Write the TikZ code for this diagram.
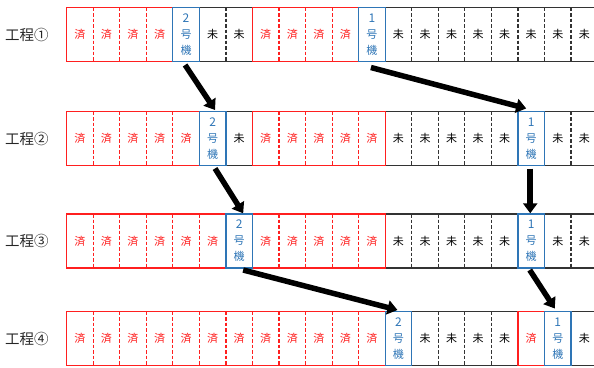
\documentclass[tikz,border=0pt]{standalone}
\usepackage{fontspec}
\newfontfamily\cjk{Noto Sans CJK JP}
\usetikzlibrary{arrows.meta}
\definecolor{sred}{HTML}{FF1F1F}
\definecolor{mblue}{HTML}{2E75B6}
\definecolor{ugray}{HTML}{333333}
\newcommand\cellS{\textcolor{sred}{済}}
\newcommand\cellU{\textcolor{black}{未}}
\newcommand\cellA{\textcolor{mblue}{\fontsize{12}{16}\selectfont 1}\\\textcolor{mblue}{号}\\\textcolor{mblue}{機}}
\newcommand\cellB{\textcolor{mblue}{\fontsize{12}{16}\selectfont 2}\\\textcolor{mblue}{号}\\\textcolor{mblue}{機}}
\def\typeS{S}
\def\typeU{U}
\newcount\cellcnt
\newcommand\placecell[1]{%
  \edef\ci{\the\cellcnt}\def\cx{#1}%
  \node[cellnode] (r\crow-\ci) at ({66.6+26.55*(\ci+0.5)}, {\ctop+27}) {\csname cell#1\endcsname};%
  \ifx\cx\typeS
    \draw[dashS] (r\crow-\ci.north west) -- (r\crow-\ci.south west) (r\crow-\ci.north east) -- (r\crow-\ci.south east);%
  \fi
  \ifx\cx\typeU
    \draw[dashU] (r\crow-\ci.north west) -- (r\crow-\ci.south west) (r\crow-\ci.north east) -- (r\crow-\ci.south east);%
  \fi
  \global\advance\cellcnt by 1\relax}
\def\cellnext#1,{\ifx\relax#1\else\placecell{#1}\expandafter\cellnext\fi}
\newcommand\cellrow[3]{\def\crow{#1}\def\ctop{#2}\global\cellcnt=0\relax\cellnext#3,\relax,}
\begin{document}
\begin{tikzpicture}[x=1pt,y=-1pt,
  cellnode/.style={minimum width=26.55pt, minimum height=54pt, inner sep=0pt, outer sep=0pt, align=center, font=\cjk\fontsize{11}{16}\selectfont},
  dashS/.style={draw=sred, line width=1.2pt, dash pattern=on 3.5pt off 2pt},
  dashU/.style={draw=ugray, line width=1.2pt, dash pattern=on 3.5pt off 2pt},
  sline/.style={draw=sred, line width=1.3pt},
  uline/.style={draw=ugray, line width=1.3pt},
  bline/.style={draw=mblue, line width=1.3pt},
  lbl/.style={font=\cjk\fontsize{14.5}{16}\selectfont, text=black!85, anchor=west, inner sep=0pt},
  arr/.style={line width=5.5pt, -{Triangle[width=14pt,length=10pt]}}
]
\useasboundingbox (0,0) rectangle (594,367);
\clip (0,0) rectangle (594,367);
\cellrow{1}{7.5}{S,S,S,S,B,U,U,S,S,S,S,A,U,U,U,U,U,U,U,U}
\cellrow{2}{111.5}{S,S,S,S,S,B,U,S,S,S,S,S,U,U,U,U,U,A,U,U}
\cellrow{3}{214}{S,S,S,S,S,S,B,S,S,S,S,S,U,U,U,U,U,A,U,U}
\cellrow{4}{311.5}{S,S,S,S,S,S,S,S,S,S,S,S,B,U,U,U,U,S,A,U}
% unfinished groups
\draw[uline] (r1-5.north west) rectangle (r1-6.south east);
\draw[uline] (r1-12.north west) rectangle (r1-19.south east);
\draw[uline] (r2-6.north west) rectangle (r2-6.south east);
\draw[uline] (r2-12.north west) rectangle (r2-16.south east);
\draw[uline] (r2-18.north west) rectangle (r2-19.south east);
\draw[uline] (r3-12.north west) rectangle (r3-16.south east);
\draw[uline] (r3-18.north west) rectangle (r3-19.south east);
\draw[uline] (r4-13.north west) rectangle (r4-16.south east);
\draw[uline] (r4-19.north west) rectangle (r4-19.south east);
% finished groups
\draw[sline] (r1-0.north west) rectangle (r1-3.south east);
\draw[sline] (r1-7.north west) rectangle (r1-10.south east);
\draw[sline] (r2-0.north west) rectangle (r2-4.south east);
\draw[sline] (r2-7.north west) rectangle (r2-11.south east);
\draw[sline] (r3-0.north west) rectangle (r3-5.south east);
\draw[sline] (r3-7.north west) rectangle (r3-11.south east);
\draw[sline] (r4-0.north west) rectangle (r4-11.south east);
\draw[sline] (r4-17.north west) rectangle (r4-17.south east);
% machines
\draw[bline] (r1-4.north west) rectangle (r1-4.south east);
\draw[bline] (r1-11.north west) rectangle (r1-11.south east);
\draw[bline] (r2-5.north west) rectangle (r2-5.south east);
\draw[bline] (r2-17.north west) rectangle (r2-17.south east);
\draw[bline] (r3-6.north west) rectangle (r3-6.south east);
\draw[bline] (r3-17.north west) rectangle (r3-17.south east);
\draw[bline] (r4-12.north west) rectangle (r4-12.south east);
\draw[bline] (r4-18.north west) rectangle (r4-18.south east);
% labels
\node[lbl] (L1) at (5,34.5) {工程①};
\node[lbl] (L2) at (5,138.5) {工程②};
\node[lbl] (L3) at (5,241) {工程③};
\node[lbl] (L4) at (5,338.5) {工程④};
% arrows
\draw[arr] ([xshift=-1pt,yshift=-3.5pt]r1-4.south) -- ([xshift=2.4pt,yshift=1.5pt]r2-5.north);
\draw[arr] ([xshift=-1pt,yshift=-6pt]r1-11.south) -- ([xshift=-5pt,yshift=3pt]r2-17.north);
\draw[arr] ([xshift=2.4pt,yshift=-3pt]r2-5.south) -- ([xshift=4pt,yshift=0.7pt]r3-6.north);
\draw[arr] ([xshift=-1pt,yshift=-3pt]r2-17.south) -- ([xshift=-1pt,yshift=0.7pt]r3-17.north);
\draw[arr] ([xshift=4pt,yshift=-2pt]r3-6.south) -- ([xshift=-1pt,yshift=1.5pt]r4-12.north);
\draw[arr] ([xshift=-1.5pt,yshift=-2pt]r3-17.south) -- ([xshift=-3pt,yshift=3pt]r4-18.north);
\end{tikzpicture}
\end{document}
